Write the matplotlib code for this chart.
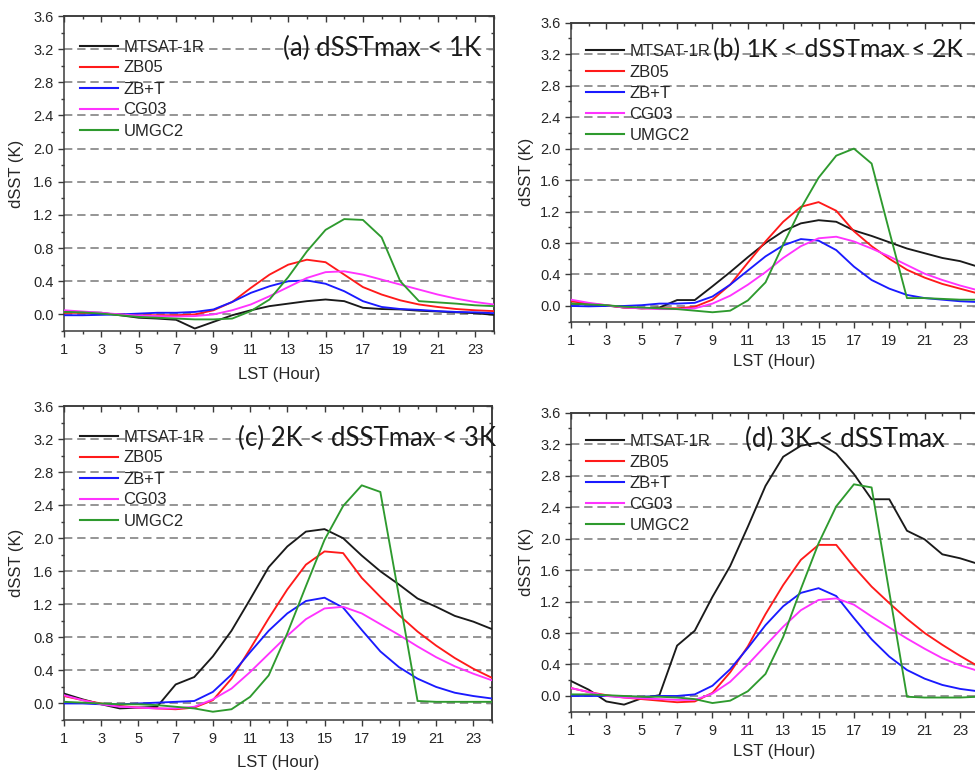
import matplotlib
matplotlib.use("Agg")
import matplotlib.pyplot as plt
from matplotlib.ticker import MultipleLocator, FixedLocator, FormatStrFormatter

plt.rcParams['font.family'] = ['Liberation Sans', 'DejaVu Sans']
plt.rcParams['lines.scale_dashes'] = False

hours = list(range(1, 25))
series_names = ["MTSAT-1R", "ZB05", "ZB+T", "CG03", "UMGC2"]
series_colors = ["#1a1a1a", "#ff1a1a", "#1a1aff", "#ff33ff", "#2e9a2e"]
panel_titles = ["(a) dSSTmax < 1K", "(b) 1K < dSSTmax < 2K",
                "(c) 2K < dSSTmax < 3K", "(d) 3K < dSSTmax"]
x_ticks = [1, 3, 5, 7, 9, 11, 13, 15, 17, 19, 21, 23]

# Panel (a)
a_mtsat = [0.03, 0.025, 0.02, -0.01, -0.04, -0.05, -0.065, -0.17, -0.09, -0.01, 0.05, 0.10,
           0.13, 0.16, 0.18, 0.16, 0.08, 0.065, 0.06, 0.045, 0.035, 0.025, 0.015, -0.005]
a_zb05 = [0.02, 0.02, 0.01, 0.0, -0.01, -0.01, -0.01, 0.0, 0.05, 0.15, 0.32, 0.48,
          0.60, 0.66, 0.63, 0.48, 0.33, 0.24, 0.17, 0.12, 0.09, 0.065, 0.05, 0.04]
a_zbt = [-0.01, -0.01, -0.005, 0.0, 0.01, 0.02, 0.02, 0.03, 0.06, 0.15, 0.26, 0.34,
         0.40, 0.41, 0.37, 0.28, 0.16, 0.09, 0.065, 0.055, 0.04, 0.03, 0.025, 0.015]
a_cg03 = [0.05, 0.035, 0.02, 0.0, -0.015, -0.02, -0.025, -0.02, 0.0, 0.05, 0.12, 0.22,
          0.33, 0.44, 0.51, 0.52, 0.48, 0.42, 0.36, 0.30, 0.24, 0.19, 0.15, 0.12]
a_umgc2 = [0.03, 0.025, 0.01, -0.01, -0.03, -0.04, -0.05, -0.06, -0.06, -0.05, 0.04, 0.18,
           0.45, 0.76, 1.02, 1.15, 1.14, 0.93, 0.40, 0.16, 0.145, 0.13, 0.11, 0.10]

# Panel (b)
b_mtsat = [0.03, 0.02, 0.005, -0.02, -0.03, -0.02, 0.075, 0.075, 0.25, 0.43, 0.62, 0.80,
           0.95, 1.05, 1.09, 1.07, 0.96, 0.89, 0.81, 0.73, 0.67, 0.61, 0.57, 0.50]
b_zb05 = [0.06, 0.03, 0.01, -0.02, -0.03, -0.03, -0.03, -0.01, 0.08, 0.27, 0.55, 0.82,
          1.07, 1.26, 1.32, 1.21, 0.95, 0.76, 0.60, 0.46, 0.36, 0.28, 0.22, 0.16]
b_zbt = [0.0, -0.005, 0.0, 0.0, 0.01, 0.03, 0.03, 0.04, 0.12, 0.27, 0.45, 0.63,
         0.77, 0.85, 0.83, 0.71, 0.50, 0.33, 0.22, 0.14, 0.10, 0.08, 0.06, 0.05]
b_cg03 = [0.08, 0.04, 0.01, -0.02, -0.03, -0.04, -0.04, -0.03, 0.03, 0.13, 0.27, 0.43,
          0.61, 0.76, 0.86, 0.88, 0.82, 0.73, 0.63, 0.52, 0.41, 0.33, 0.26, 0.20]
b_umgc2 = [0.03, 0.02, 0.01, -0.01, -0.02, -0.03, -0.04, -0.06, -0.08, -0.06, 0.07, 0.30,
           0.78, 1.24, 1.63, 1.91, 2.00, 1.81, 0.95, 0.10, 0.10, 0.09, 0.08, 0.08]

# Panel (c)
c_mtsat = [0.12, 0.05, -0.01, -0.06, -0.05, -0.04, 0.23, 0.32, 0.57, 0.88, 1.26, 1.65,
           1.90, 2.08, 2.11, 2.00, 1.79, 1.60, 1.44, 1.27, 1.17, 1.06, 0.99, 0.90]
c_zb05 = [0.09, 0.04, 0.0, -0.03, -0.05, -0.06, -0.07, -0.05, 0.04, 0.30, 0.66, 1.03,
          1.38, 1.68, 1.84, 1.82, 1.52, 1.29, 1.07, 0.87, 0.70, 0.55, 0.42, 0.31]
c_zbt = [0.0, 0.0, -0.01, -0.01, 0.0, 0.01, 0.02, 0.03, 0.14, 0.35, 0.62, 0.88,
         1.09, 1.24, 1.28, 1.16, 0.89, 0.63, 0.44, 0.30, 0.20, 0.13, 0.09, 0.06]
c_cg03 = [0.10, 0.04, -0.01, -0.04, -0.05, -0.06, -0.06, -0.04, 0.05, 0.18, 0.38, 0.60,
          0.82, 1.02, 1.15, 1.17, 1.09, 0.96, 0.83, 0.69, 0.56, 0.45, 0.36, 0.28]
c_umgc2 = [0.02, 0.01, 0.0, -0.01, -0.01, -0.02, -0.04, -0.06, -0.10, -0.07, 0.08, 0.34,
           0.85, 1.42, 1.98, 2.39, 2.64, 2.56, 1.30, 0.03, 0.02, 0.02, 0.02, 0.02]

# Panel (d)
d_mtsat = [0.19, 0.08, -0.07, -0.11, -0.03, 0.01, 0.64, 0.83, 1.26, 1.65, 2.15, 2.67,
           3.04, 3.18, 3.22, 3.08, 2.82, 2.50, 2.50, 2.10, 1.99, 1.80, 1.75, 1.68]
d_zb05 = [0.10, 0.05, 0.01, -0.02, -0.04, -0.06, -0.08, -0.07, 0.04, 0.30, 0.63, 1.04,
          1.41, 1.73, 1.92, 1.92, 1.64, 1.39, 1.18, 0.98, 0.80, 0.65, 0.51, 0.38]
d_zbt = [0.0, 0.0, 0.0, -0.01, -0.01, 0.0, 0.0, 0.02, 0.13, 0.34, 0.61, 0.90,
         1.14, 1.31, 1.37, 1.27, 0.99, 0.72, 0.50, 0.33, 0.22, 0.14, 0.09, 0.06]
d_cg03 = [0.10, 0.05, 0.0, -0.02, -0.03, -0.04, -0.05, -0.05, 0.03, 0.18, 0.40, 0.64,
          0.88, 1.09, 1.22, 1.24, 1.16, 1.01, 0.87, 0.73, 0.60, 0.48, 0.39, 0.32]
d_umgc2 = [0.02, 0.02, 0.01, 0.0, -0.01, -0.01, -0.02, -0.04, -0.09, -0.06, 0.06, 0.28,
           0.75, 1.36, 1.94, 2.41, 2.69, 2.65, 1.32, -0.01, -0.02, -0.02, -0.02, -0.01]

panels = [
    [a_mtsat, a_zb05, a_zbt, a_cg03, a_umgc2],
    [b_mtsat, b_zb05, b_zbt, b_cg03, b_umgc2],
    [c_mtsat, c_zb05, c_zbt, c_cg03, c_umgc2],
    [d_mtsat, d_zb05, d_zbt, d_cg03, d_umgc2],
]

W, H = 975, 774
fig = plt.figure(figsize=(W / 100, H / 100), dpi=100)

# layout in pixels: left, right, top(3.6), bottom(-0.2)
boxes = [(64, 493.7, 16, 331), (571, 977.7, 22.7, 321.7),
         (64, 492.0, 406, 720), (571, 977.7, 412.7, 711.7)]
title_pos = [(283, 48.5), (713, 50), (238, 438.5), (745, 439)]
title_size = [18.5, 17.8, 18.5, 18.5]
xlabel_pos = [375, 361.7, 762.7, 751.7]
ylabel_pos = [17, 527, 17, 527]
legend_left = [80, 586, 80, 586]
legend_top = [39.5, 44, 429.5, 434]

spine_col = "#3a3a3a"
text_col = "#262626"

for i, (l, r, t, b) in enumerate(boxes):
    ax = fig.add_axes([l / W, (H - b) / H, (r - l) / W, (b - t) / H])
    for j, ys in enumerate(panels[i]):
        ax.plot(hours, ys, color=series_colors[j], lw=1.35, label=series_names[j], zorder=3)
    ax.set_xlim(1, 24)
    ax.set_ylim(-0.2, 3.6)
    ax.xaxis.set_major_locator(FixedLocator(x_ticks))
    ax.xaxis.set_minor_locator(MultipleLocator(1))
    ax.yaxis.set_major_locator(MultipleLocator(0.4))
    ax.yaxis.set_minor_locator(MultipleLocator(0.2))
    ax.yaxis.set_major_formatter(FormatStrFormatter('%.1f'))
    for yv in [0.0, 0.4, 0.8, 1.2, 1.6, 2.0, 2.4, 2.8, 3.2]:
        ax.axhline(yv, color="#8c8c8c", lw=1.3, dashes=(6, 3.5), zorder=1)
    ax.tick_params(which='major', direction='out', length=4.5, width=1.0,
                   color=spine_col, labelsize=10.5, labelcolor=text_col, pad=3)
    ax.tick_params(which='minor', direction='out', length=2.5, width=1.0, color=spine_col)
    ax.tick_params(axis='x', which='major', pad=4)
    for sp in ax.spines.values():
        sp.set_color(spine_col)
        sp.set_linewidth(1.1)
    # top / right inward ticks
    sx = ax.secondary_xaxis('top')
    sx.xaxis.set_major_locator(FixedLocator(x_ticks))
    sx.xaxis.set_minor_locator(MultipleLocator(1))
    sx.tick_params(which='major', direction='in', length=4.5, width=1.0, color=spine_col, labeltop=False)
    sx.tick_params(which='minor', direction='in', length=2.5, width=1.0, color=spine_col)
    sx.spines['top'].set_color(spine_col)
    sx.spines['top'].set_linewidth(1.1)
    sy = ax.secondary_yaxis('right')
    sy.yaxis.set_major_locator(MultipleLocator(0.4))
    sy.yaxis.set_minor_locator(MultipleLocator(0.2))
    sy.tick_params(which='major', direction='in', length=4.5, width=1.0, color=spine_col, labelright=False)
    sy.tick_params(which='minor', direction='in', length=2.5, width=1.0, color=spine_col)
    sy.spines['right'].set_color(spine_col)
    sy.spines['right'].set_linewidth(1.1)

    ax.set_xlabel("LST (Hour)", fontsize=12, color=text_col)
    ax.set_ylabel("dSST (K)", fontsize=12, color=text_col)
    ax.xaxis.label.set_va('center')
    ax.yaxis.label.set_va('center')
    ax.xaxis.set_label_coords(0.5, (b - xlabel_pos[i]) / (b - t))
    ax.yaxis.set_label_coords((ylabel_pos[i] - l) / (r - l), 0.5)

    leg = ax.legend(loc='upper left',
                    bbox_to_anchor=((legend_left[i] - l) / (r - l), (b - legend_top[i]) / (b - t)),
                    frameon=False, fontsize=12, handlelength=2.3, handletextpad=0.3,
                    labelspacing=0.36, borderpad=0, borderaxespad=0)
    for txt in leg.get_texts():
        txt.set_color(text_col)
    for ln in leg.get_lines():
        ln.set_linewidth(1.5)

    tx, ty = title_pos[i]
    fig.text(tx / W, 1 - ty / H, panel_titles[i], fontsize=title_size[i], family=['Lato', 'DejaVu Sans'],
             color="#1a1a1a", ha='left', va='center')

fig.savefig("out.png", dpi=100)
